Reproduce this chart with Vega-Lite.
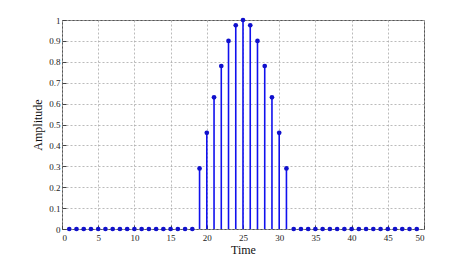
{
  "$schema": "https://vega.github.io/schema/vega-lite/v6.json",
  "width": 362,
  "height": 209,
  "autosize": "none",
  "padding": {"left": 62, "top": 20, "right": 49, "bottom": 35},
  "background": "white",
  "config": {
    "view": {"stroke": "#555", "strokeWidth": 1},
    "font": "Liberation Serif",
    "axis": {
      "labelFont": "Liberation Serif",
      "titleFont": "Liberation Serif",
      "labelColor": "#222",
      "titleColor": "#111",
      "labelFontSize": 9,
      "titleFontSize": 12,
      "titleFontWeight": "normal",
      "domain": false,
      "tickColor": "#444",
      "tickSize": -4,
      "gridColor": "#aaa",
      "gridDash": [2, 2],
      "gridWidth": 0.8
    }
  },
  "data": {
    "values": [
      {"t": 1, "a": 0}, {"t": 2, "a": 0}, {"t": 3, "a": 0}, {"t": 4, "a": 0}, {"t": 5, "a": 0},
      {"t": 6, "a": 0}, {"t": 7, "a": 0}, {"t": 8, "a": 0}, {"t": 9, "a": 0}, {"t": 10, "a": 0},
      {"t": 11, "a": 0}, {"t": 12, "a": 0}, {"t": 13, "a": 0}, {"t": 14, "a": 0}, {"t": 15, "a": 0},
      {"t": 16, "a": 0}, {"t": 17, "a": 0}, {"t": 18, "a": 0},
      {"t": 19, "a": 0.29}, {"t": 20, "a": 0.46}, {"t": 21, "a": 0.63}, {"t": 22, "a": 0.78},
      {"t": 23, "a": 0.90}, {"t": 24, "a": 0.975}, {"t": 25, "a": 1.0}, {"t": 26, "a": 0.975},
      {"t": 27, "a": 0.90}, {"t": 28, "a": 0.78}, {"t": 29, "a": 0.63}, {"t": 30, "a": 0.46},
      {"t": 31, "a": 0.29},
      {"t": 32, "a": 0}, {"t": 33, "a": 0}, {"t": 34, "a": 0}, {"t": 35, "a": 0},
      {"t": 36, "a": 0}, {"t": 37, "a": 0}, {"t": 38, "a": 0}, {"t": 39, "a": 0}, {"t": 40, "a": 0},
      {"t": 41, "a": 0}, {"t": 42, "a": 0}, {"t": 43, "a": 0}, {"t": 44, "a": 0}, {"t": 45, "a": 0},
      {"t": 46, "a": 0}, {"t": 47, "a": 0}, {"t": 48, "a": 0}, {"t": 49, "a": 0}
    ]
  },
  "encoding": {
    "x": {
      "field": "t", "type": "quantitative",
      "scale": {"domain": [0, 50], "nice": false},
      "axis": {"title": "Time", "values": [0,5,10,15,20,25,30,35,40,45,50], "labelPadding": 8, "titlePadding": 2}
    },
    "y": {
      "field": "a", "type": "quantitative",
      "scale": {"domain": [0, 1], "nice": false},
      "axis": {"title": "Amplitude", "values": [0,0.1,0.2,0.3,0.4,0.5,0.6,0.7,0.8,0.9,1], "format": "~g", "labelPadding": 6, "titlePadding": 4}
    }
  },
  "layer": [
    {
      "mark": {"type": "rule", "color": "#1010ee", "strokeWidth": 1.6},
      "encoding": {"y2": {"datum": 0}}
    },
    {
      "mark": {"type": "point", "filled": true, "color": "#1010cc", "size": 22, "opacity": 1}
    }
  ]
}
